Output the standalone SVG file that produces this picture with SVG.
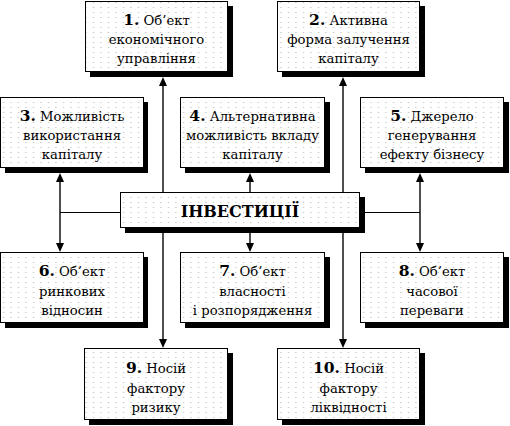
<svg xmlns="http://www.w3.org/2000/svg" width="510" height="426" viewBox="0 0 510 426">
<defs>
<pattern id="dots" x="0" y="0" width="7.5" height="5" patternUnits="userSpaceOnUse">
<rect x="3" y="2" width="1" height="1" fill="#b0b0b0"/>
</pattern>
<path id="up" d="M-4,0 L4,0 L0,-9 Z"/>
</defs>
<style>
.sh{fill:#000}
.bx{fill:#fff;stroke:#000;stroke-width:1}
.dt{fill:url(#dots)}
text{font-family:'DejaVu Serif','Liberation Serif',serif;font-size:13.2px;fill:#000;text-anchor:middle}
.n{font-weight:bold;font-size:15.5px}
.c{font-weight:bold;font-size:16px}
.v{stroke:#222;stroke-width:1.6;fill:none}
.h{stroke:#000;stroke-width:1;fill:none}
.ar{fill:#000}
</style>
<rect width="510" height="426" fill="#fff"/>

<g id="node1">
<rect class="sh" x="90" y="6" width="143" height="71"/>
<rect class="bx" x="85.5" y="1.5" width="142" height="70"/>
<rect class="dt" x="86" y="2" width="141" height="69"/>
<text x="156.5" y="25"><tspan class="n">1.</tspan> Об’ект</text>
<text x="156.5" y="44">економічного</text>
<text x="156.5" y="63">управління</text>
</g>
<g id="node2">
<rect class="sh" x="282" y="6" width="143" height="71"/>
<rect class="bx" x="277.5" y="1.5" width="142" height="70"/>
<rect class="dt" x="278" y="2" width="141" height="69"/>
<text x="348.5" y="25"><tspan class="n">2.</tspan> Активна</text>
<text x="348.5" y="44">форма залучення</text>
<text x="348.5" y="63">капіталу</text>
</g>
<g id="node3">
<rect class="sh" x="5" y="102" width="143" height="71"/>
<rect class="bx" x="0.5" y="97.5" width="143" height="70"/>
<rect class="dt" x="1" y="98" width="142" height="69"/>
<text x="72" y="121"><tspan class="n">3.</tspan> Можливість</text>
<text x="72" y="140">використання</text>
<text x="72" y="159">капіталу</text>
</g>
<g id="node4">
<rect class="sh" x="185" y="102" width="145" height="71"/>
<rect class="bx" x="180.5" y="97.5" width="144" height="70"/>
<rect class="dt" x="181" y="98" width="143" height="69"/>
<text x="252.5" y="121"><tspan class="n">4.</tspan> Альтернативна</text>
<text x="252.5" y="140">можливість вкладу</text>
<text x="252.5" y="159">капіталу</text>
</g>
<g id="node5">
<rect class="sh" x="365" y="102" width="144" height="71"/>
<rect class="bx" x="360.5" y="97.5" width="143" height="70"/>
<rect class="dt" x="361" y="98" width="142" height="69"/>
<text x="432" y="121"><tspan class="n">5.</tspan> Джерело</text>
<text x="432" y="140">генерування</text>
<text x="432" y="159">ефекту бізнесу</text>
</g>

<g id="connectors">
<line class="v" x1="163" y1="80" x2="163" y2="192"/>
<line class="v" x1="163" y1="233" x2="163" y2="345"/>
<line class="v" x1="343" y1="80" x2="343" y2="192"/>
<line class="v" x1="343" y1="233" x2="343" y2="345"/>
<line class="v" x1="60" y1="176" x2="60" y2="249"/>
<line class="h" x1="60" y1="212.5" x2="120" y2="212.5"/>
<line class="v" x1="420" y1="176" x2="420" y2="249"/>
<line class="h" x1="365" y1="212.5" x2="420" y2="212.5"/>
<line class="v" x1="250" y1="176" x2="250" y2="192"/>
<line class="v" x1="250" y1="233" x2="250" y2="249"/>
<use href="#up" class="ar" transform="translate(163,86)"/>
<use href="#up" class="ar" transform="translate(163,339) rotate(180)"/>
<use href="#up" class="ar" transform="translate(343,86)"/>
<use href="#up" class="ar" transform="translate(343,339) rotate(180)"/>
<use href="#up" class="ar" transform="translate(60,182)"/>
<use href="#up" class="ar" transform="translate(60,243) rotate(180)"/>
<use href="#up" class="ar" transform="translate(420,182)"/>
<use href="#up" class="ar" transform="translate(420,243) rotate(180)"/>
<use href="#up" class="ar" transform="translate(250,182)"/>
<use href="#up" class="ar" transform="translate(250,243) rotate(180)"/>
</g>

<g id="center">
<rect class="sh" x="125" y="197" width="240" height="36"/>
<rect class="bx" x="120.5" y="192.5" width="239" height="35"/>
<rect class="dt" x="121" y="193" width="238" height="34"/>
<text class="c" x="240" y="217">ІНВЕСТИЦІЇ</text>
</g>

<g id="node6">
<rect class="sh" x="5" y="257" width="143" height="71"/>
<rect class="bx" x="0.5" y="252.5" width="143" height="70"/>
<rect class="dt" x="1" y="253" width="142" height="69"/>
<text x="72" y="276"><tspan class="n">6.</tspan> Об’ект</text>
<text x="72" y="295.5">ринкових</text>
<text x="72" y="315">відносин</text>
</g>
<g id="node7">
<rect class="sh" x="185" y="257" width="145" height="71"/>
<rect class="bx" x="180.5" y="252.5" width="144" height="70"/>
<rect class="dt" x="181" y="253" width="143" height="69"/>
<text x="252.5" y="276"><tspan class="n">7.</tspan> Об’ект</text>
<text x="252.5" y="295.5">власності</text>
<text x="252.5" y="315">і розпорядження</text>
</g>
<g id="node8">
<rect class="sh" x="365" y="257" width="144" height="71"/>
<rect class="bx" x="360.5" y="252.5" width="143" height="70"/>
<rect class="dt" x="361" y="253" width="142" height="69"/>
<text x="432" y="276"><tspan class="n">8.</tspan> Об’ект</text>
<text x="432" y="295.5">часової</text>
<text x="432" y="315">переваги</text>
</g>
<g id="node9">
<rect class="sh" x="89" y="353" width="144" height="72"/>
<rect class="bx" x="84.5" y="348.5" width="143" height="71"/>
<rect class="dt" x="85" y="349" width="142" height="70"/>
<text x="156" y="373"><tspan class="n">9.</tspan> Носій</text>
<text x="156" y="393">фактору</text>
<text x="156" y="412">ризику</text>
</g>
<g id="node10">
<rect class="sh" x="282" y="353" width="143" height="72"/>
<rect class="bx" x="277.5" y="348.5" width="142" height="71"/>
<rect class="dt" x="278" y="349" width="141" height="70"/>
<text x="348.5" y="373"><tspan class="n">10.</tspan> Носій</text>
<text x="348.5" y="393">фактору</text>
<text x="348.5" y="412">ліквідності</text>
</g>
</svg>
